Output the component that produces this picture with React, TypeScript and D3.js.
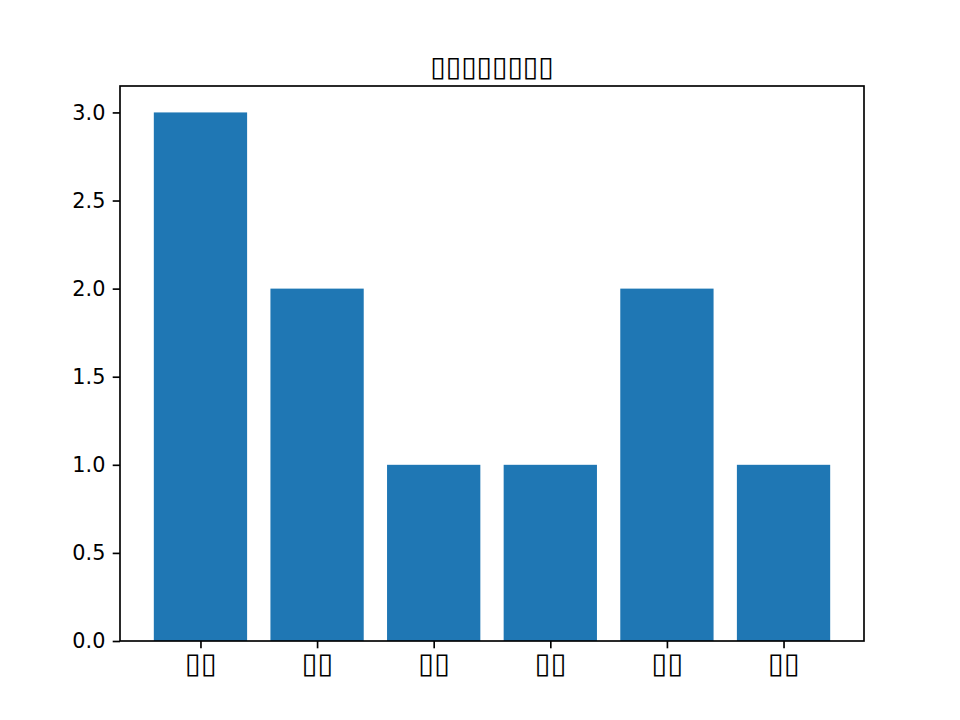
import { useEffect, useRef } from 'react';
import * as d3 from 'd3';

// The reference shows missing-glyph boxes for its CJK text; kept as box characters.
const chartTitle = '▯▯▯▯▯▯▯▯';
const categories = ['▯▯', '▯▯', '▯▯', '▯▯', '▯▯', '▯▯'];
const counts = [3, 2, 1, 1, 2, 1];
const yTicks = [0, 0.5, 1.0, 1.5, 2.0, 2.5, 3.0];

const width = 960;
const height = 720;

export default function App() {
  const svgRef = useRef<SVGSVGElement>(null);

  useEffect(() => {
    if (!svgRef.current) return;
    d3.select(svgRef.current).selectAll('*').remove();

    const margin = { top: 86, right: 96, bottom: 79, left: 120 };
    const innerWidth = width - margin.left - margin.right;
    const innerHeight = height - margin.top - margin.bottom;
    const font = '"DejaVu Sans", sans-serif';

    const svg = d3.select(svgRef.current)
      .attr('width', width)
      .attr('height', height);

    svg.append('rect')
      .attr('width', width)
      .attr('height', height)
      .attr('fill', '#ffffff');

    const g = svg.append('g')
      .attr('transform', `translate(${margin.left},${margin.top})`);

    const barWidth = 0.8;
    const lo = -barWidth / 2;
    const hi = categories.length - 1 + barWidth / 2;
    const pad = (hi - lo) * 0.05;

    const xScale = d3.scaleLinear()
      .domain([lo - pad, hi + pad])
      .range([0, innerWidth]);

    const yMax = (d3.max(counts) || 1) * 1.05;
    const yScale = d3.scaleLinear()
      .domain([0, yMax])
      .range([innerHeight, 0]);

    // Bars
    g.selectAll('.bar')
      .data(counts)
      .join('rect')
      .attr('class', 'bar')
      .attr('x', (_, i) => xScale(i - barWidth / 2))
      .attr('width', xScale(barWidth) - xScale(0))
      .attr('y', d => yScale(d))
      .attr('height', d => yScale(0) - yScale(d))
      .attr('fill', '#1f77b4');

    const tickLen = 7.3;
    const tickPad = 7.3;
    const fontSize = 20.8;

    // X axis
    const xAxis = g.append('g')
      .attr('transform', `translate(0,${innerHeight})`)
      .call(d3.axisBottom(xScale)
        .tickValues(categories.map((_, i) => i))
        .tickFormat((_, i) => categories[i])
        .tickSize(tickLen)
        .tickPadding(4));
    xAxis.select('.domain').remove();
    xAxis.selectAll('line').attr('stroke', '#000').attr('stroke-width', 1.67);
    xAxis.selectAll('text')
      .attr('font-family', font)
      .attr('font-size', 29)
      .attr('fill', '#000');

    // Y axis
    const yAxis = g.append('g')
      .call(d3.axisLeft(yScale)
        .tickValues(yTicks)
        .tickFormat(d3.format('.1f'))
        .tickSize(tickLen)
        .tickPadding(tickPad));
    yAxis.select('.domain').remove();
    yAxis.selectAll('line').attr('stroke', '#000').attr('stroke-width', 1.67);
    yAxis.selectAll('text')
      .attr('font-family', font)
      .attr('font-size', fontSize)
      .attr('fill', '#000');

    // Frame
    g.append('rect')
      .attr('width', innerWidth)
      .attr('height', innerHeight)
      .attr('fill', 'none')
      .attr('stroke', '#000')
      .attr('stroke-width', 1.67);

    // Title
    svg.append('text')
      .attr('x', margin.left + innerWidth / 2)
      .attr('y', margin.top - 10)
      .attr('text-anchor', 'middle')
      .attr('font-family', font)
      .attr('font-size', 28)
      .attr('fill', '#000')
      .text(chartTitle);
  }, []);

  return (
    <svg
      ref={svgRef}
      style={{ position: 'absolute', left: 0, top: 0, display: 'block' }}
    />
  );
}
